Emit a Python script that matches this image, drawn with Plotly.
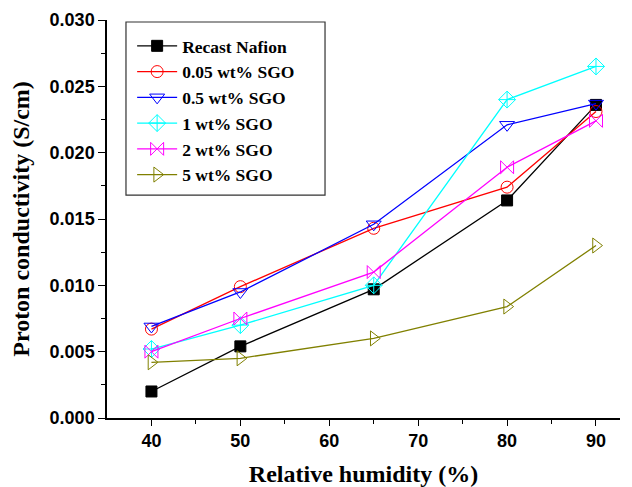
import plotly.graph_objects as go

rh = [40, 50, 65, 80, 90]
recast_nafion = [0.0020, 0.0054, 0.0097, 0.0164, 0.0236]
sgo_005 = [0.0067, 0.0099, 0.0143, 0.0174, 0.0231]
sgo_05 = [0.0069, 0.0095, 0.0146, 0.0221, 0.0237]
sgo_1 = [0.0052, 0.0070, 0.0100, 0.0240, 0.0265]
sgo_2 = [0.0050, 0.0075, 0.0110, 0.0189, 0.0224]
sgo_5 = [0.0042, 0.0045, 0.0060, 0.0084, 0.0130]

names = ["Recast Nafion", "0.05 wt% SGO", "0.5 wt% SGO", "1 wt% SGO", "2 wt% SGO", "5 wt% SGO"]
series = [recast_nafion, sgo_005, sgo_05, sgo_1, sgo_2, sgo_5]
colors = ["#000000", "#ff0000", "#0000ff", "#00ffff", "#ff00ff", "#808000"]
symbols = ["square", "circle-open", "triangle-down-open", "diamond-cross-open", "bowtie-open", "triangle-right-open"]
sizes = [11, 12, 13, 13, 13, 13]

fig = go.Figure()
for n, s, c, sym, sz in zip(names, series, colors, symbols, sizes):
    fig.add_trace(go.Scatter(
        x=rh, y=s, name=n, mode="lines+markers",
        line=dict(color=c, width=1.3),
        marker=dict(symbol=sym, size=sz, color=c, line=dict(color=c, width=1)),
    ))

serif = "Liberation Serif, Times New Roman, serif"
sans = "Liberation Sans, Arial, sans-serif"

# legend frame drawn as a paper-anchored rectangle
fig.add_shape(type="rect", xref="paper", yref="paper",
              x0=0.037, x1=0.425, y0=0.56, y1=0.995,
              line=dict(color="#333333", width=1.2), fillcolor="rgba(0,0,0,0)", layer="below")

fig.update_layout(
    width=624, height=479,
    margin=dict(l=99, r=12, t=12, b=69),
    paper_bgcolor="white", plot_bgcolor="white",
    showlegend=True,
    legend=dict(
        x=0.049, y=0.98, xanchor="left", yanchor="top",
        borderwidth=0, bgcolor="rgba(0,0,0,0)",
        font=dict(family=serif, size=17.5, color="black", weight="bold"),
        tracegroupgap=0, itemwidth=40,
    ),
)
fig.update_xaxes(
    range=[35, 92.7], tickvals=[40, 50, 60, 70, 80, 90], automargin=False,
    showline=True, linecolor="black", linewidth=1.5, mirror=False,
    ticks="outside", ticklen=6, tickwidth=1.3, tickcolor="black",
    minor=dict(tickvals=[45, 55, 65, 75, 85], ticks="outside", ticklen=4, tickwidth=1.2, tickcolor="black"),
    showgrid=False, zeroline=False,
    tickfont=dict(family=sans, size=18, color="black", weight="bold"),
    title=dict(text="Relative humidity (%)", standoff=18,
               font=dict(family=serif, size=24, color="black", weight="bold")),
)
fig.update_yaxes(
    range=[0, 0.030], tickvals=[0, 0.005, 0.010, 0.015, 0.020, 0.025, 0.030], automargin=False,
    ticktext=["0.000", "0.005", "0.010", "0.015", "0.020", "0.025", "0.030"],
    showline=True, linecolor="black", linewidth=1.5, mirror=False,
    ticks="outside", ticklen=7, tickwidth=1.3, tickcolor="black",
    minor=dict(tickvals=[0.0025, 0.0075, 0.0125, 0.0175, 0.0225, 0.0275], ticks="outside", ticklen=4, tickwidth=1.2, tickcolor="black"),
    showgrid=False, zeroline=False,
    tickfont=dict(family=sans, size=18, color="black", weight="bold"),
    title=dict(text="Proton conductivity (S/cm)", standoff=15,
               font=dict(family=serif, size=24, color="black", weight="bold")),
)

fig.write_html("out.html")
